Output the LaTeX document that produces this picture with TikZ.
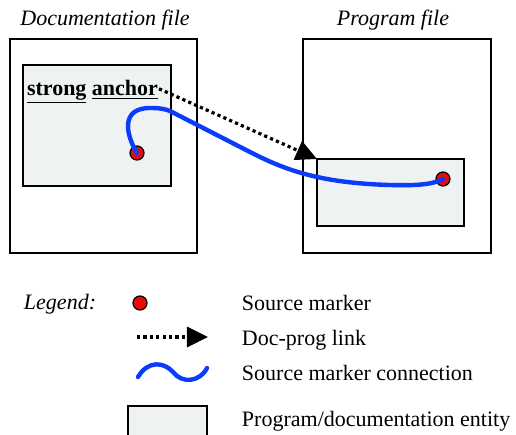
\documentclass[tikz,border=0pt]{standalone}
\usepackage{fontspec}
\setmainfont{Liberation Serif}
\usetikzlibrary{arrows.meta}
\definecolor{entityfill}{RGB}{239,242,243}
\definecolor{connblue}{RGB}{10,60,250}
\definecolor{markred}{RGB}{235,10,10}
\begin{document}
\begin{tikzpicture}[x=0.5pt, y=-0.5pt,
    every node/.style={font=\fontsize{11}{13}\selectfont, inner sep=0pt, outer sep=0pt},
    filebox/.style={draw, line width=0.6pt, rectangle},
    entity/.style={draw, line width=0.6pt, rectangle, fill=entityfill},
    marker/.style={circle, draw, line width=0.6pt, fill=markred, minimum size=7pt},
    doclink/.style={line width=1.6pt, dash pattern=on 1.6pt off 1.6pt, -{Triangle[length=10.5pt, width=10pt]}},
    srcconn/.style={draw=connblue, line width=2.2pt, line cap=round}]
            \useasboundingbox (0,0) rectangle (516,435);
            % files
            \node[anchor=base, font=\fontsize{11}{13}\selectfont\itshape] (doctitle) at (105,25) {Documentation file};
            \node[anchor=base, font=\fontsize{11}{13}\selectfont\itshape] (progtitle) at (393,25) {Program file};
            \node[filebox, minimum width=93.5pt, minimum height=107pt] (docfile) at (103.5,146) {};
            \node[filebox, minimum width=94pt, minimum height=107pt] (progfile) at (397,146) {};
            \node[entity, minimum width=74pt, minimum height=60.5pt] (docentity) at (97,125.5) {};
            \node[entity, minimum width=73.5pt, minimum height=33.5pt] (progentity) at (390.5,192.5) {};
            \node[anchor=base west, font=\fontsize{11}{13}\selectfont\bfseries] (anchor) at (27,95) {\underline{strong} \underline{anchor}};
            \node[marker] (docmark) at (137,153) {};
            \node[marker] (progmark) at (443,179) {};
            \draw[doclink] (anchor.east) ++(1,-3) -- (progentity.north west);
            \draw[srcconn] (docmark.center) .. controls (126,135) and (120,108) .. (150,108)
                .. controls (160,108) and (165,109) .. (170,111) -- (250,152)
                .. controls (285,170) and (320,183) .. (390,185)
                .. controls (425,186) and (435,183) .. (progmark.center);
            % legend
            \node[anchor=base west, font=\fontsize{11}{13}\selectfont\itshape] (legend) at (24,309) {Legend:};
            \node[marker] (legmark) at (140,303) {};
            \node[anchor=base west] (legmarktext) at (242,310) {Source marker};
            \coordinate (linkstart) at (137,337);
            \coordinate (linkend) at (208,337);
            \draw[doclink] (linkstart) -- (linkend);
            \node[anchor=base west] (linktext) at (242,345) {Doc-prog link};
            \coordinate (wavestart) at (138,377);
            \coordinate (waveend) at (207,368);
            \draw[srcconn] (wavestart) .. controls (148,360) and (164,362) .. (173,372)
                .. controls (182,384) and (200,382) .. (waveend);
            \node[anchor=base west] (conntext) at (242,380) {Source marker connection};
            \node[entity, minimum width=39.5pt, minimum height=19.5pt] (legentity) at (167.5,425.5) {};
            \node[anchor=base west] (entitytext) at (242,426) {Program/documentation entity};
        \end{tikzpicture}
\end{document}
